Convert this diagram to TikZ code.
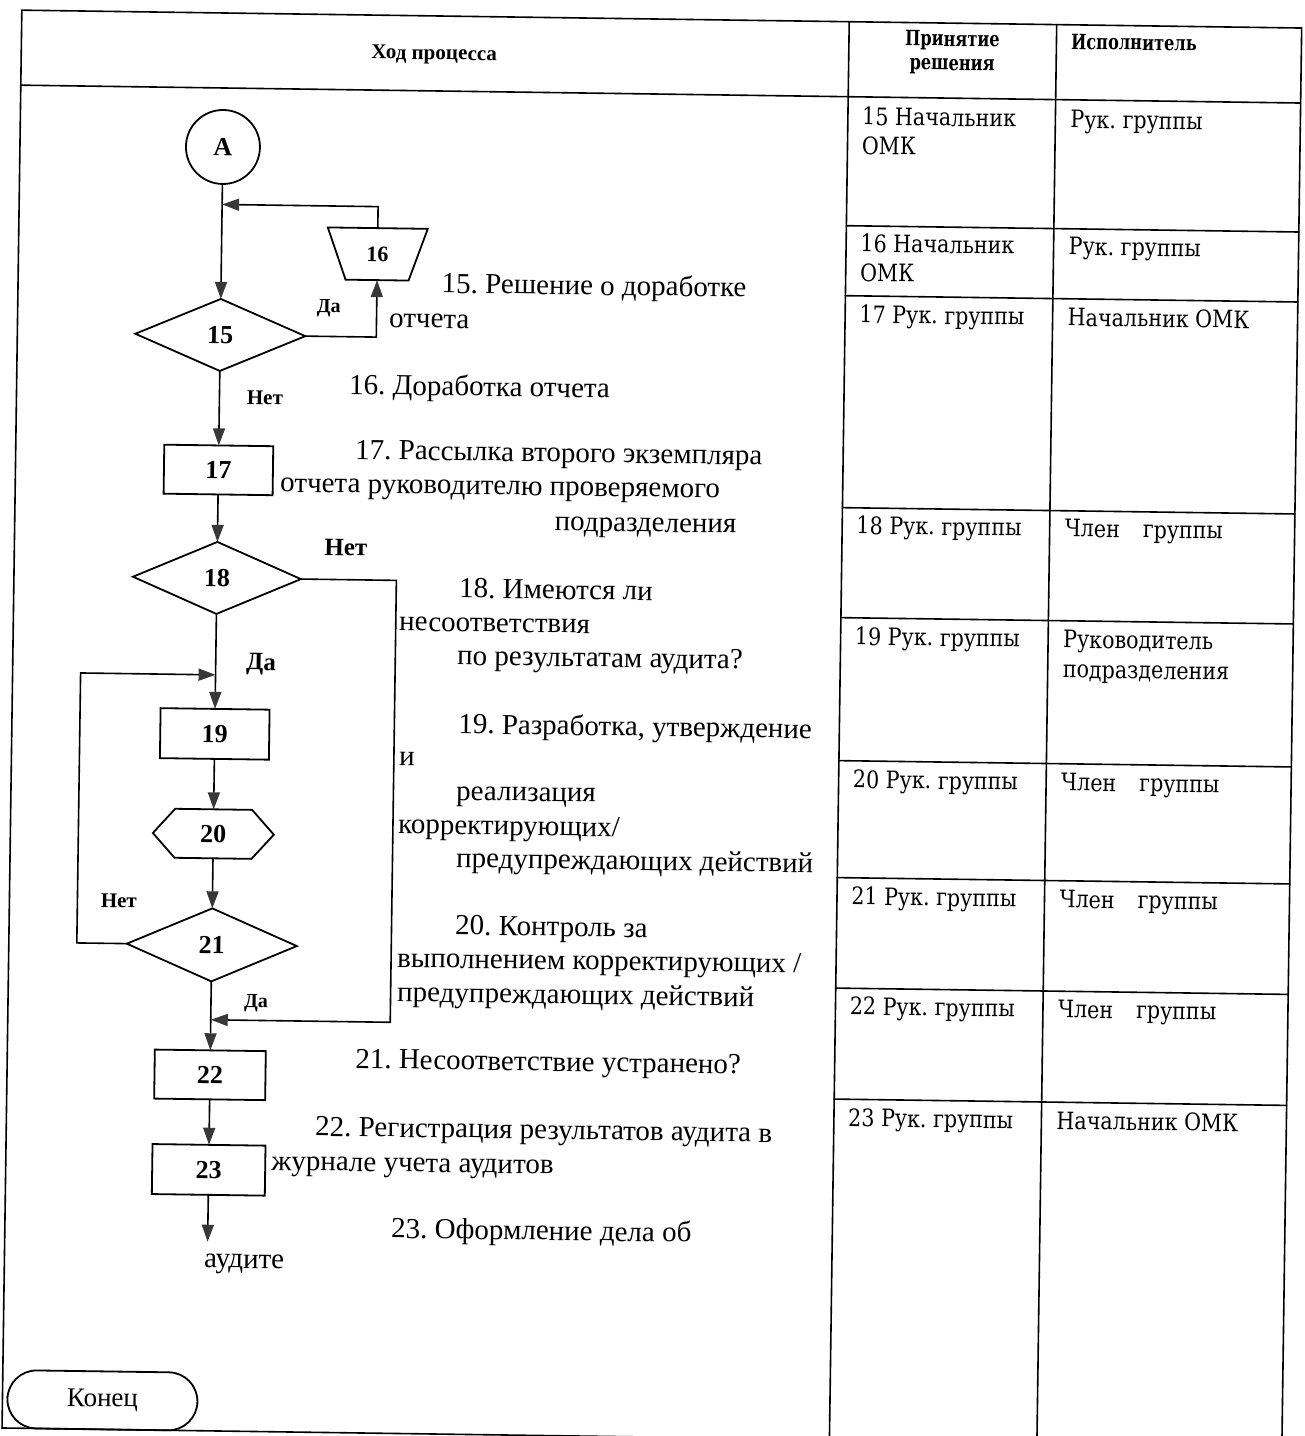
\documentclass[tikz,border=0pt]{standalone}
\usepackage{fontspec}
\setmainfont{Liberation Serif}
\newfontfamily\cellfont[FakeStretch=0.86]{DejaVu Serif}
\newfontfamily\headfont[FakeStretch=0.77]{DejaVu Serif}
\usetikzlibrary{arrows.meta,shapes.geometric,calc}
\newcommand\fsz[1]{\fontsize{#1}{#1}\selectfont\frenchspacing}

\begin{document}
\begin{tikzpicture}[x=1pt,y=-1pt,
  tabrule/.style={line width=1.6pt, line cap=round},
  fshape/.style={draw, line width=1.8pt, inner sep=0pt, outer sep=0pt, font=\bfseries\fsz{26}},
  outline/.style={draw, line width=1.8pt, line join=miter},
  flowarrow/.style={draw, line width=1.6pt, -{Triangle[length=17pt,width=12pt,color=black!78]}},
  expltext/.style={anchor=base west, inner sep=0pt, font=\fsz{29}},
  ynlabel/.style={anchor=center, inner sep=0pt, font=\bfseries\fsz{21}},
  celltext/.style={anchor=base west, inner sep=0pt, font=\cellfont\fsz{24}},
  headtext/.style={inner sep=0pt, font=\headfont\bfseries\fsz{21}}
]
\useasboundingbox (0,0) rectangle (1305,1436);
\fill[white] (0,0) rectangle (1305,1436);
\clip (0,0) rectangle (1305,1436);

\begin{scope}[rotate around={-0.8:(652,718)}, transform shape]

% ---------- table frame ----------
\draw[tabrule] (12,19) -- (1292,19) -- (1292,1437) -- (12,1437) -- cycle;
\draw[tabrule] (12,94) -- (1292,94);
\draw[tabrule] (839.5,19) -- (839.5,1437);
\draw[tabrule] (1047,19) -- (1047,1437);
\foreach \rowy in {223,293,505,615,758,875,985.5,1096.5}
  \draw[tabrule] (839.5,\rowy) -- (1292,\rowy);

% ---------- headers ----------
\node[inner sep=0pt, font=\bfseries\fsz{21}] (hproc) at (425,58) {Ход процесса};
\node[headtext, anchor=base] (hdec1) at (943,42) {Принятие};
\node[headtext, anchor=base] (hdec2) at (943,66) {решения};
\node[headtext, anchor=base west] (hexe) at (1061.5,43.3) {Исполнитель};

% ---------- responsibility cells ----------
\node[celltext] (c15a) at (853.7,122) {15 Начальник};
\node[celltext] (c15b) at (853.7,151.5) {ОМК};
\node[celltext] (e15) at (1062,122) {Рук. группы};
\node[celltext] (c16a) at (853.7,249) {16 Начальник};
\node[celltext] (c16b) at (853.7,278.5) {ОМК};
\node[celltext] (e16) at (1062,249) {Рук. группы};
\node[celltext] (c17) at (853.7,320) {17 Рук. группы};
\node[celltext] (e17) at (1062,320) {Начальник ОМК};
\node[celltext] (c18) at (853.7,531) {18 Рук. группы};
\node[celltext] (e18) at (1062,531) {Член\hspace{23pt}группы};
\node[celltext] (c19) at (853.7,642) {19 Рук. группы};
\node[celltext] (e19a) at (1062,642) {Руководитель};
\node[celltext] (e19b) at (1062,672) {подразделения};
\node[celltext] (c20) at (853.7,785) {20 Рук. группы};
\node[celltext] (e20) at (1062,785) {Член\hspace{23pt}группы};
\node[celltext] (c21) at (853.7,902) {21 Рук. группы};
\node[celltext] (e21) at (1062,902) {Член\hspace{23pt}группы};
\node[celltext] (c22) at (853.7,1012) {22 Рук. группы};
\node[celltext] (e22) at (1062,1012) {Член\hspace{23pt}группы};
\node[celltext] (c23) at (853.7,1123.5) {23 Рук. группы};
\node[celltext] (e23) at (1062,1123.5) {Начальник ОМК};

% ---------- flowchart shapes ----------
\node[circle, fshape, minimum size=74pt] (A) at (215,153) {А};
\node[diamond, fshape, minimum width=170pt, minimum height=72pt] (d15) at (215,341) {15};
\node[inner sep=0pt, outer sep=0pt, minimum width=100pt, minimum height=52pt,
      font=\bfseries\fsz{22}] (t16) at (371,258) {16};
\draw[outline] (t16.north west) -- (t16.north east)
  -- ($(t16.south east)!0.185!(t16.south west)$)
  -- ($(t16.south west)!0.185!(t16.south east)$) -- cycle;
\node[rectangle, fshape, minimum width=109pt, minimum height=49pt] (b17) at (215,476) {17};
\node[diamond, fshape, minimum width=168pt, minimum height=72pt] (d18) at (215,584) {18};
\node[rectangle, fshape, minimum width=109pt, minimum height=50pt] (b19) at (215,740) {19};
\node[inner sep=0pt, outer sep=0pt, minimum width=121pt, minimum height=49pt,
      font=\bfseries\fsz{26}] (h20) at (215,840) {20};
\draw[outline] (h20.west)
  -- ($(h20.north west)!0.182!(h20.north east)$)
  -- ($(h20.north east)!0.182!(h20.north west)$)
  -- (h20.east)
  -- ($(h20.south east)!0.182!(h20.south west)$)
  -- ($(h20.south west)!0.182!(h20.south east)$) -- cycle;
\node[diamond, fshape, minimum width=170pt, minimum height=73pt] (d21) at (215,951) {21};
\node[rectangle, fshape, minimum width=111pt, minimum height=49pt] (b22) at (215,1081) {22};
\node[rectangle, fshape, minimum width=113pt, minimum height=50pt] (b23) at (215,1176) {23};
\node[draw, line width=1.8pt, rounded corners=29pt, minimum width=190pt, minimum height=58pt,
      font=\fsz{27}] (fin) at (112,1408) {Конец};

% ---------- junction points ----------
\coordinate (c15) at (371,341);
\coordinate (c16) at (371,210.5);
\coordinate (j1) at (215,210.5);
\coordinate (lb) at (80,951);
\coordinate (lc) at (80,681);
\coordinate (j2) at (215,681);
\coordinate (rt) at (394.5,584);
\coordinate (rc) at (394.5,1026);
\coordinate (j3) at (215,1026);
\coordinate (tail) at (215,1248);

% ---------- connectors ----------
\draw[flowarrow] (A.south) -- (d15.north);
\draw[flowarrow] (d15.east) -- (c15) -- (t16.south);
\draw[flowarrow] (t16.north) -- (c16) -- (j1);
\draw[flowarrow] (d15.south) -- (b17.north);
\draw[flowarrow] (b17.south) -- (d18.north);
\draw[flowarrow] (d18.south) -- (b19.north);
\draw[flowarrow] (b19.south) -- (h20.north);
\draw[flowarrow] (h20.south) -- (d21.north);
\draw[flowarrow] (d21.south) -- (b22.north);
\draw[flowarrow] (b22.south) -- (b23.north);
\draw[flowarrow] (b23.south) -- (tail);
\draw[flowarrow] (d21.west) -- (lb) -- (lc) -- (j2);
\draw[flowarrow] (d18.east) -- (rt) -- (rc) -- (j3);

% ---------- branch labels ----------
\node[ynlabel, font=\bfseries\fsz{20}] (l15y) at (323,312.5) {Да};
\node[ynlabel] (l15n) at (260.5,403) {Нет};
\node[ynlabel, font=\bfseries\fsz{25}] (l18n) at (343.6,552) {Нет};
\node[ynlabel, font=\bfseries\fsz{25}] (l18y) at (260.3,670) {Да};
\node[ynlabel] (l21n) at (121.5,908.5) {Нет};
\node[ynlabel, font=\bfseries\fsz{20}] (l21y) at (260,1008.5) {Да};

% ---------- step descriptions ----------
\node[expltext] (s15a) at (435.6,295.8) {15. Решение о доработке};
\node[expltext] (s15b) at (383.5,331) {отчета};
\node[expltext] (s16) at (344.5,398.4) {16. Доработка отчета};
\node[expltext] (s17a) at (351.4,463.3) {17. Рассылка второго экземпляра};
\node[expltext] (s17b) at (276.9,497) {отчета руководителю проверяемого};
\node[expltext] (s17c) at (551.9,532) {подразделения};
\node[expltext] (s18a) at (457.3,600.4) {18. Имеются ли};
\node[expltext] (s18b) at (397.8,634.2) {несоответствия};
\node[expltext] (s18c) at (456.3,667.7) {по результатам аудита?};
\node[expltext] (s19a) at (458.3,736.2) {19. Разработка, утверждение};
\node[expltext] (s19b) at (399.7,769.5) {и};
\node[expltext] (s19c) at (457.2,802.8) {реализация};
\node[expltext] (s19d) at (399.6,837) {корректирующих/};
\node[expltext] (s19e) at (458.1,870.2) {предупреждающих действий};
\node[expltext] (s20a) at (458,937.4) {20. Контроль за};
\node[expltext] (s20b) at (400.5,970.7) {выполнением корректирующих /};
\node[expltext] (s20c) at (401,1005) {предупреждающих действий};
\node[expltext] (s21) at (360,1072.4) {21. Несоответствие устранено?};
\node[expltext] (s22a) at (320.9,1140.5) {22. Регистрация результатов аудита в};
\node[expltext] (s22b) at (277.4,1175.3) {журнале учета аудитов};
\node[expltext] (s23a) at (398.3,1241.5) {23. Оформление дела об};
\node[expltext] (s23b) at (211.7,1273.7) {аудите};

\end{scope}
\end{tikzpicture}
\end{document}
